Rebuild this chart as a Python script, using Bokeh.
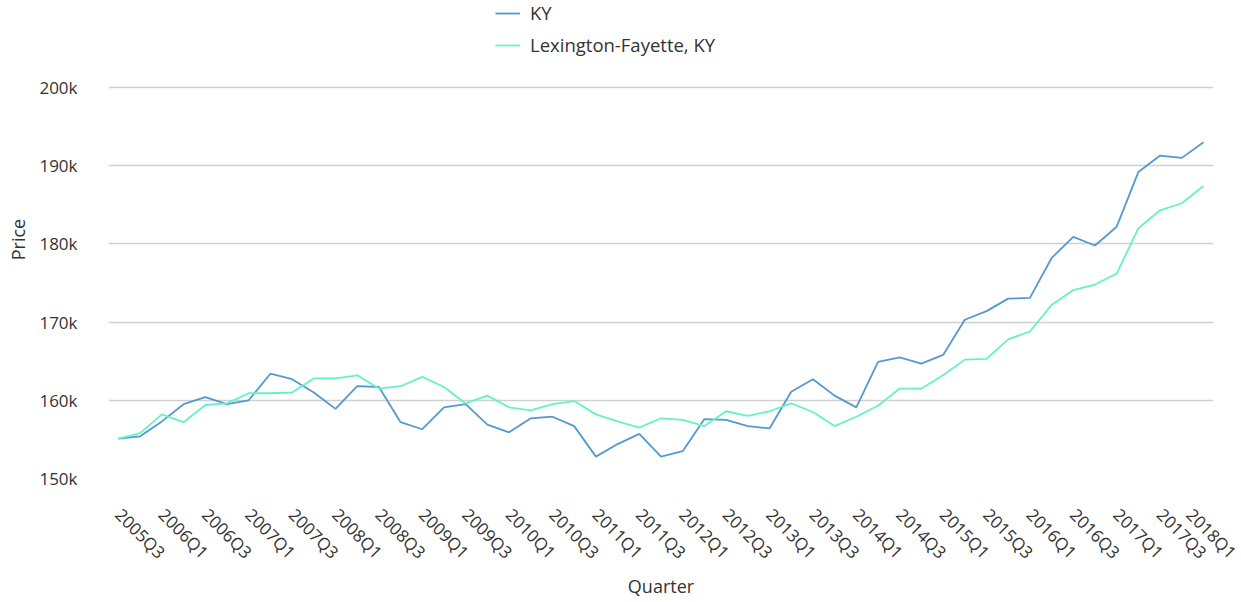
from bokeh.plotting import figure
from bokeh.models import Range1d, FixedTicker, NumeralTickFormatter
from bokeh.embed import file_html
from bokeh.resources import INLINE
import math

quarters = ["2005Q3", "2005Q4", "2006Q1", "2006Q2", "2006Q3", "2006Q4",
            "2007Q1", "2007Q2", "2007Q3", "2007Q4", "2008Q1", "2008Q2",
            "2008Q3", "2008Q4", "2009Q1", "2009Q2", "2009Q3", "2009Q4",
            "2010Q1", "2010Q2", "2010Q3", "2010Q4", "2011Q1", "2011Q2",
            "2011Q3", "2011Q4", "2012Q1", "2012Q2", "2012Q3", "2012Q4",
            "2013Q1", "2013Q2", "2013Q3", "2013Q4", "2014Q1", "2014Q2",
            "2014Q3", "2014Q4", "2015Q1", "2015Q2", "2015Q3", "2015Q4",
            "2016Q1", "2016Q2", "2016Q3", "2016Q4", "2017Q1", "2017Q2",
            "2017Q3", "2017Q4", "2018Q1"]

ky = [155100, 155400, 157300, 159500, 160400, 159500, 160000, 163400, 162700, 161000,
      158900, 161800, 161700, 157200, 156300, 159100, 159500, 156900, 155900, 157700,
      157900, 156700, 152800, 154400, 155700, 152800, 153500, 157600, 157500, 156700,
      156400, 161100, 162700, 160600, 159100, 164900, 165500, 164700, 165800, 170300,
      171400, 173000, 173100, 178200, 180900, 179800, 182200, 189200, 191300, 191000,
      193000]

lex = [155100, 155800, 158200, 157200, 159400, 159600, 160900, 160900, 161000, 162800,
       162800, 163200, 161500, 161800, 163000, 161700, 159600, 160600, 159100, 158700,
       159500, 159900, 158200, 157300, 156500, 157700, 157500, 156700, 158600, 158000,
       158600, 159600, 158500, 156700, 157900, 159300, 161500, 161500, 163200, 165200,
       165300, 167800, 168800, 172200, 174100, 174800, 176200, 182000, 184300, 185200,
       187400]

y_ticks = [150000, 160000, 170000, 180000, 190000, 200000]

x_idx = list(range(len(quarters)))

FONT = "Open Sans"
TEXT_COLOR = "#333333"

p = figure(width=1241, height=602, output_backend="svg", toolbar_location=None,
           x_range=Range1d(-0.46, 50.46), y_range=Range1d(150000, 211125),
           min_border_left=108, min_border_right=28, min_border_top=0,
           min_border_bottom=124)
p.outline_line_color = None
p.background_fill_color = "white"
p.border_fill_color = "white"

p.line(x_idx, ky, line_color="#5499d0", line_width=1.8, legend_label="KY")
p.line(x_idx, lex, line_color="#66f2c6", line_width=1.8, legend_label="Lexington-Fayette, KY")

# x axis
xa = p.xaxis[0]
xa.ticker = FixedTicker(ticks=x_idx[::2])
xa.major_label_overrides = {i: quarters[i] for i in x_idx[::2]}
xa.major_label_orientation = -math.pi / 4
xa.axis_line_color = None
xa.major_tick_line_color = None
xa.minor_tick_line_color = None
xa.major_label_standoff = 27
xa.axis_label = "Quarter"
xa.axis_label_standoff = 0
xa.axis_label_text_font_style = "normal"

# y axis
ya = p.yaxis[0]
ya.ticker = FixedTicker(ticks=y_ticks)
ya.formatter = NumeralTickFormatter(format="0a")
ya.axis_line_color = None
ya.major_tick_line_color = None
ya.minor_tick_line_color = None
ya.major_label_standoff = 25
ya.axis_label = "Price"
ya.axis_label_standoff = 6
ya.axis_label_text_font_style = "normal"

for ax in (xa, ya):
    ax.major_label_text_font = FONT
    ax.major_label_text_font_size = "17px"
    ax.major_label_text_color = TEXT_COLOR
    ax.axis_label_text_font = FONT
    ax.axis_label_text_font_size = "18px"
    ax.axis_label_text_color = TEXT_COLOR

p.xgrid.grid_line_color = None
p.ygrid.ticker = FixedTicker(ticks=y_ticks)
p.ygrid.grid_line_color = "#d0d0d0"
p.ygrid.grid_line_width = 1.5

lg = p.legend[0]
lg.location = (387, 421)
lg.orientation = "vertical"
lg.padding = 0
lg.margin = 0
lg.spacing = 7
lg.glyph_width = 25
lg.glyph_height = 24
lg.label_height = 24
lg.label_standoff = 10
lg.label_text_font = FONT
lg.label_text_font_size = "18.5px"
lg.label_text_color = TEXT_COLOR
lg.background_fill_alpha = 0
lg.border_line_color = None

open("out.html", "w").write(file_html(p, INLINE))
